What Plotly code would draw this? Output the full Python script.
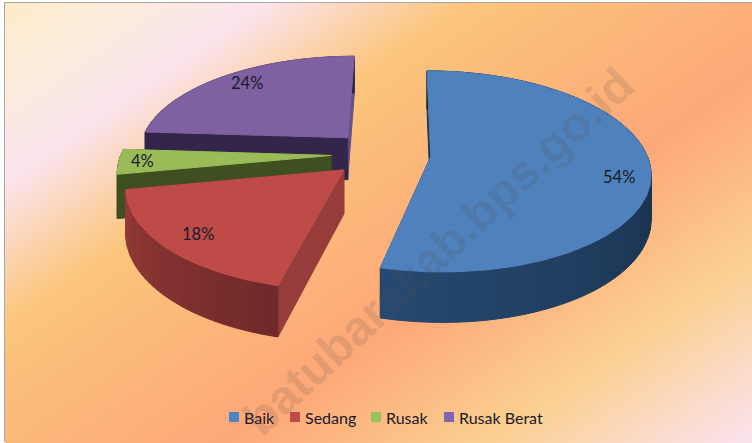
import base64, struct, zlib
import numpy as np
import plotly.graph_objects as go

categories = ["Baik", "Sedang", "Rusak", "Rusak Berat"]
values = [54, 18, 4, 24]
top_colors = ["#4F81BD", "#BE4B48", "#9BBB59", "#7F60A0"]
legend_colors = ["#4A86C5", "#BE4B48", "#98C25A", "#8064B0"]
legend_x = [234, 295, 376, 449]
wall_light = ["#264A72", "#963A38", "#3F4F20", "#33264A"]
wall_dark = ["#0F1A28", "#702A29", "#3F4F20", "#33264A"]
face_start = ["#1A3350", "#963C3A", "#3F4F20", "#33264A"]
face_end = ["#1A3350", "#963C3A", "#3F4F20", "#66508A"]
label_rho = [0.86, 0.84, 0.89, 0.85]
label_turn = [6.3, 0, 0, 2.5]

# projection of the tilted, exploded pie onto the 752x443 page
CX, CY, AX, AY, K = 381.0, 154.0, 213.0, 97.6, 0.144
EXPLODE, RIM_SHIFT, HEIGHT = 0.234, 0.014, 43.0


def project(wx, wy, drop=False):
    d = 1 + K * np.asarray(wy)
    sx = CX + AX * np.asarray(wx) / d
    sy = CY - AY * np.asarray(wy) / d
    if drop:
        sy = sy + HEIGHT / d
    return sx, sy


def hex_rgb(c):
    return np.array([int(c[i:i + 2], 16) for i in (1, 3, 5)], float)


def mix(a, b, f):
    r = hex_rgb(a) * (1 - f) + hex_rgb(b) * f
    return "rgb(%d,%d,%d)" % tuple(r)


def background_uri():
    stops_t = [0, 60, 185, 330, 600, 780, 960]
    stops_c = ["#FDEBC8", "#FDEDD6", "#FBE5EE", "#FBC67D", "#FEA878", "#FBD090", "#FCE2EC"]
    w, h = 376, 220
    xx, yy = np.meshgrid(np.linspace(5, 752, w), np.linspace(3, 443, h))
    t = 0.7 * xx + yy
    rgb = np.stack([
        np.interp(t, stops_t, [hex_rgb(c)[i] for c in stops_c]) for i in range(3)
    ], axis=-1).astype(np.uint8)
    raw = b"".join(b"\x00" + rgb[r].tobytes() for r in range(h))

    def chunk(tag, d):
        return struct.pack(">I", len(d)) + tag + d + struct.pack(">I", zlib.crc32(tag + d))

    png = (b"\x89PNG\r\n\x1a\n" + chunk(b"IHDR", struct.pack(">IIBBBBB", w, h, 8, 2, 0, 0, 0))
           + chunk(b"IDAT", zlib.compress(raw)) + chunk(b"IEND", b""))
    return "data:image/png;base64," + base64.b64encode(png).decode()


fig = go.Figure()


def poly(xs, ys, color):
    fig.add_trace(go.Scatter(x=list(xs), y=list(ys), mode="lines", fill="toself", fillcolor=color,
                             line=dict(color=color, width=1), showlegend=False, hoverinfo="skip"))


total = sum(values)
spans = []
start = 0.0
for v in values:
    spans.append((start, start + 360.0 * v / total))
    start += 360.0 * v / total

annotations = []
for order in [3, 2, 1, 0]:
    a0, a1 = spans[order]
    mid = np.radians((a0 + a1) / 2)
    ax, ay = EXPLODE * np.sin(mid), EXPLODE * np.cos(mid)
    th = np.radians(np.linspace(a0, a1, max(int(a1 - a0), 8) + 1))
    rx = ax + RIM_SHIFT + np.sin(th)
    ry = ay + np.cos(th)

    for i_edge, col in ((-1, face_end[order]), (0, face_start[order])):
        ex = np.array([ax, rx[i_edge]])
        ey = np.array([ay, ry[i_edge]])
        tx, ty = project(ex, ey)
        bx, by = project(ex, ey, True)
        poly(np.r_[tx, bx[::-1], tx[0]], np.r_[ty, by[::-1], ty[0]], col)

    tx, ty = project(rx, ry)
    bx, by = project(rx, ry, True)
    step = 2
    for i in range(0, len(th) - 1, step):
        j = min(i + step, len(th) - 1)
        f = (i + j) / 2 / (len(th) - 1)
        poly(np.r_[tx[i:j + 1], bx[i:j + 1][::-1], tx[i]],
             np.r_[ty[i:j + 1], by[i:j + 1][::-1], ty[i]],
             mix(wall_dark[order], wall_light[order], f))

    cx0, cy0 = project(ax, ay)
    poly(np.r_[cx0, tx, cx0], np.r_[cy0, ty, cy0], top_colors[order])

    lab = np.radians((a0 + a1) / 2 + label_turn[order])
    lx, ly = project(ax + RIM_SHIFT + label_rho[order] * np.sin(lab),
                     ay + label_rho[order] * np.cos(lab))
    annotations.append(dict(x=float(lx), y=float(ly), xref="x", yref="y", showarrow=False,
                            text="%d%%" % round(100 * values[order] / total),
                            font=dict(family="Lato", size=16.5, color="#1a1a2a")))

# legend row: square key followed by its label, as in the reference
for name, col, lx in zip(categories, legend_colors, legend_x):
    fig.add_trace(go.Scatter(x=[lx], y=[417], mode="markers", name=name, showlegend=False,
                             hoverinfo="skip", marker=dict(symbol="square", size=10, color=col)))
    annotations.append(dict(x=lx + 7.5, y=417, xref="x", yref="y", xanchor="left", showarrow=False,
                            text=name, font=dict(family="Lato", size=16, color="#1a1a2a")))

annotations.append(dict(x=438, y=251, xref="x", yref="y", showarrow=False, textangle=-43,
                        text="<b>batubarakab.bps.go.id</b>",
                        font=dict(family="Liberation Sans", size=48, color="rgba(90,80,80,0.17)")))

fig.update_layout(
    width=752, height=443, margin=dict(l=0, r=0, t=0, b=0),
    paper_bgcolor="white", plot_bgcolor="rgba(0,0,0,0)", showlegend=False,
    xaxis=dict(range=[0, 752], visible=False, fixedrange=True),
    yaxis=dict(range=[443, 0], visible=False, fixedrange=True),
    images=[dict(source=background_uri(), xref="x", yref="y", x=5, y=3, sizex=747, sizey=440,
                 sizing="stretch", layer="below")],
    shapes=[dict(type="rect", x0=5, y0=3, x1=770, y1=441, line=dict(color="#8a8a8a", width=1.5), layer="below")],
    annotations=annotations,
)
fig.write_html("out.html", config={"displayModeBar": False},
               post_script="document.body.style.margin='0';document.documentElement.style.overflow='hidden';")
